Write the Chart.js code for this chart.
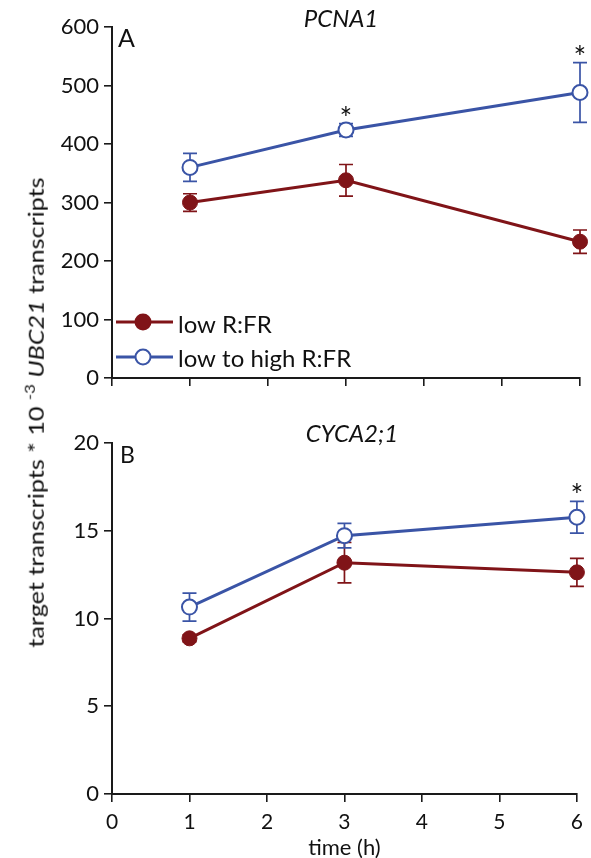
<!DOCTYPE html>
<html><head><meta charset="utf-8">
<script src="https://cdn.jsdelivr.net/npm/chart.js@4.4.1/dist/chart.umd.min.js"></script>
<style>
html,body{margin:0;padding:0;background:#fff;}
#wrap{position:relative;width:591px;height:858px;overflow:hidden;font-family:Lato,"Noto Sans",sans-serif;}
canvas{position:absolute;left:0;}
#ylab{position:absolute;white-space:nowrap;font-size:21px;color:#111;transform-origin:center center;line-height:1;}
#ylab sup{font-size:14px;vertical-align:0;position:relative;top:-9px;}
</style></head>
<body><div id="wrap">
<canvas id="cA" width="591" height="400" style="top:0"></canvas>
<canvas id="cB" width="591" height="458" style="top:400px"></canvas>
<div id="ylab">target transcripts * 10 <sup>-3</sup> <i>UBC21</i> transcripts</div>
</div>
<script>
// ---- data ----
const timeHours = [1, 3, 6];
const xTicks = [0, 1, 2, 3, 4, 5, 6];
const pcnaTicks = [0, 100, 200, 300, 400, 500, 600];
const cycaTicks = [0, 5, 10, 15, 20];
const seriesNames = ['low R:FR', 'low to high R:FR'];
const pcnaLow = [300, 338, 233];
const pcnaLowErr = [15, 27, 20];
const pcnaHigh = [360, 424, 488];
const pcnaHighErr = [24, 11, 51];
const pcnaStars = [false, true, true];
const cycaLow = [8.87, 13.18, 12.63];
const cycaLowErr = [0.2, 1.15, 0.8];
const cycaHigh = [10.65, 14.72, 15.77];
const cycaHighErr = [0.8, 0.7, 0.9];
const cycaStars = [false, false, true];

const RED = 'rgb(128,20,24)';
const BLUE = 'rgb(58,84,166)';
const AXIS = '#1a1a1a';
const FONT = 'Lato, "Noto Sans", sans-serif';

const pts = (xs, ys) => xs.map((x, i) => ({x, y: ys[i]}));

const annot = {
  id: 'annot',
  beforeDatasetsDraw(chart, args, o) {
    const ctx = chart.ctx, xs = chart.scales.x, ys = chart.scales.y;
    chart.data.datasets.forEach(ds => {
      ctx.save();
      ctx.strokeStyle = ds.borderColor; ctx.lineWidth = 1.7;
      ds.data.forEach((p, i) => {
        const e = ds.err[i];
        const x = xs.getPixelForValue(p.x);
        const y1 = ys.getPixelForValue(p.y + e), y2 = ys.getPixelForValue(p.y - e);
        ctx.beginPath();
        ctx.moveTo(x, y1); ctx.lineTo(x, y2);
        ctx.moveTo(x - 7, y1); ctx.lineTo(x + 7, y1);
        ctx.moveTo(x - 7, y2); ctx.lineTo(x + 7, y2);
        ctx.stroke();
      });
      ctx.restore();
    });
  },
  afterDraw(chart, args, o) {
    const ctx = chart.ctx, xs = chart.scales.x, ys = chart.scales.y;
    ctx.save();
    ctx.fillStyle = '#111';
    // significance stars
    const ds = chart.data.datasets[1];
    ctx.font = '30px ' + FONT; ctx.textAlign = 'center'; ctx.textBaseline = 'alphabetic';
    o.stars.forEach((s, i) => {
      if (!s) return;
      const p = ds.data[i];
      const x = xs.getPixelForValue(p.x);
      const yt = ys.getPixelForValue(p.y + ds.err[i]);
      ctx.fillText('*', x, yt + 5);
    });
    // panel letter
    ctx.font = o.letterSize + 'px ' + FONT; ctx.textAlign = 'left'; ctx.textBaseline = 'middle';
    ctx.fillText(o.letter, o.letterX, o.letterY);
    // title
    ctx.font = 'italic ' + o.titleSize + 'px ' + FONT; ctx.textAlign = 'center';
    ctx.fillText(o.title, o.titleX, o.titleY);
    // legend
    if (o.legend) {
      chart.data.datasets.forEach((d, k) => {
        const y = o.legend.rows[k];
        ctx.strokeStyle = d.borderColor; ctx.lineWidth = 3;
        ctx.beginPath(); ctx.moveTo(o.legend.x0, y); ctx.lineTo(o.legend.x1, y); ctx.stroke();
        ctx.beginPath(); ctx.arc(o.legend.mx, y, 7.5, 0, Math.PI * 2);
        ctx.fillStyle = d.pointBackgroundColor; ctx.fill();
        ctx.lineWidth = 2; ctx.stroke();
        ctx.fillStyle = '#111';
        ctx.font = o.legend.size + 'px ' + FONT; ctx.textAlign = 'left'; ctx.textBaseline = 'alphabetic';
        ctx.fillText(d.label, o.legend.tx, o.legend.base[k]);
      });
    }
    ctx.restore();
  }
};

function makeChart(id, low, lowErr, high, highErr, yTicks, showX, h, top, bottom, extra) {
  const yMax = yTicks[yTicks.length - 1];
  return new Chart(document.getElementById(id), {
    type: 'line',
    data: {
      datasets: [
        {label: seriesNames[0], data: pts(timeHours, low), err: lowErr, borderColor: RED,
         backgroundColor: RED, pointBackgroundColor: RED, pointBorderColor: RED, pointRadius: 7.5,
         pointBorderWidth: 1, borderWidth: 3, order: 2, clip: false},
        {label: seriesNames[1], data: pts(timeHours, high), err: highErr, borderColor: BLUE,
         backgroundColor: '#fff', pointBackgroundColor: '#fff', pointBorderColor: BLUE, pointRadius: 7.5,
         pointBorderWidth: 2, borderWidth: 3, order: 1, clip: false}
      ]
    },
    options: {
      responsive: false, animation: false, devicePixelRatio: 1,
      layout: {padding: {left: 0, right: 11, top: top, bottom: 0}},
      plugins: {legend: {display: false}, tooltip: {enabled: false}, title: {display: false}, annot: extra},
      scales: {
        x: {
          type: 'linear', min: xTicks[0], max: xTicks[xTicks.length - 1],
          afterBuildTicks: s => { s.ticks = xTicks.map(v => ({value: v})); },
          afterFit: s => { s.height = bottom; },
          grid: {drawOnChartArea: false, drawTicks: true, tickLength: 8, color: AXIS, lineWidth: 1.6},
          border: {display: true, color: AXIS, width: 2},
          ticks: {display: showX, color: '#111', padding: 8, font: {family: FONT, size: 21}},
          title: {display: showX, text: 'time (h)', color: '#111', padding: {top: 0, bottom: -3},
                  font: {family: FONT, size: 22}}
        },
        y: {
          type: 'linear', min: 0, max: yMax,
          afterBuildTicks: s => { s.ticks = yTicks.map(v => ({value: v})); },
          afterFit: s => { s.width = 112; },
          grid: {drawOnChartArea: false, drawTicks: true, tickLength: 8, color: AXIS, lineWidth: 1.6},
          border: {display: true, color: AXIS, width: 2},
          ticks: {color: '#111', padding: 5, font: {family: FONT, size: 22}}
        }
      }
    },
    plugins: [annot]
  });
}

makeChart('cA', pcnaLow, pcnaLowErr, pcnaHigh, pcnaHighErr, pcnaTicks, false, 400, 27, 22, {
  stars: pcnaStars, letter: 'A', letterX: 118, letterY: 39, letterSize: 25,
  title: 'PCNA1', titleX: 341, titleY: 19, titleSize: 24,
  legend: {x0: 116, x1: 173, mx: 143, tx: 178, size: 24, rows: [322, 357], base: [333, 367]}
});
makeChart('cB', cycaLow, cycaLowErr, cycaHigh, cycaHighErr, cycaTicks, true, 458, 43, 64, {
  stars: cycaStars, letter: 'B', letterX: 120, letterY: 56, letterSize: 23,
  title: 'CYCA2;1', titleX: 352, titleY: 34, titleSize: 24,
  legend: null
});

// y-axis label (rotated), fitted to the reference length
const yl = document.getElementById('ylab');
const w = yl.offsetWidth, hh = yl.offsetHeight;
const k = 471 / w;
yl.style.left = (35 - w / 2) + 'px';
yl.style.top = (412 - hh / 2) + 'px';
yl.style.transform = 'rotate(-90deg) scaleX(' + k.toFixed(3) + ')';
</script>
</body></html>
